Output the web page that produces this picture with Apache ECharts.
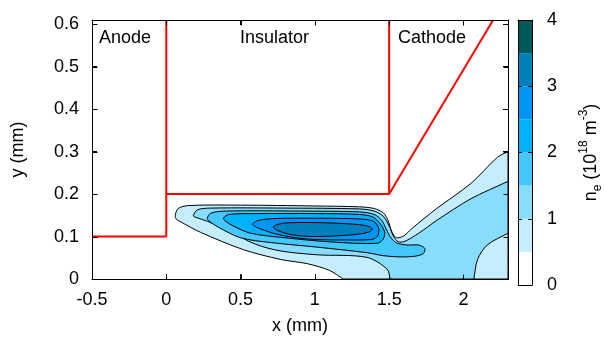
<!DOCTYPE html>
<html>
<head>
<meta charset="utf-8">
<script src="https://cdn.jsdelivr.net/npm/echarts@6/dist/echarts.min.js"></script>
<style>
  html, body { margin: 0; padding: 0; background: #fff; }
  #chart { width: 605px; height: 340px; }
</style>
</head>
<body>
<div id="chart"></div>
<script>
// axis ranges (mm) and tick marks
const xRange = [-0.5, 2.3];
const yRange = [0, 0.61];
const xTicks = [-0.5, 0, 0.5, 1, 1.5, 2];
const yTicks = [0, 0.1, 0.2, 0.3, 0.4, 0.5, 0.6];

// electrode outline (red)
const anodeEdge = [[-0.5, 0.1], [0, 0.1], [0, 0.61]];
const insulatorEdge = [[0, 0.2], [1.5, 0.2], [1.5, 0.61]];
const cathodeEdge = [[1.5, 0.2], [2.2, 0.61]];

// colour bar levels, n_e in 1e18 m^-3
const levels = [0, 0.5, 1, 1.5, 2, 2.5, 3, 3.5, 4];
const levelColors = ['#ffffff', '#c4eefc', '#88dcfc', '#44c8fc', '#00b2fa', '#0096f6', '#0080bc', '#005a5a'];

// filled contour outlines: n_e >= 0.5, 1, 1.5, 2, 2.5, 3
// (a repeated point keeps a sharp corner where a contour meets the frame)
const c05 = [[0.06,0.149],[0.08,0.166],[0.15,0.173],[0.5,0.174],[1.0,0.172],[1.3,0.170],[1.40,0.166],
  [1.46,0.156],[1.49,0.140],[1.52,0.110],[1.55,0.097],[1.60,0.102],[1.65,0.118],[1.82,0.166],[2.05,0.225],
  [2.23,0.287],[2.3,0.30],[2.3,0.30],[2.3,0],[2.3,0],[1.19,0],[1.19,0],[1.1,0.02],[0.95,0.036],[0.77,0.046],
  [0.52,0.069],[0.23,0.11],[0.1,0.134],[0.07,0.14]];
const c10 = [[0.182,0.149],[0.21,0.163],[0.3,0.167],[0.8,0.167],[1.3,0.165],[1.40,0.160],[1.46,0.148],
  [1.50,0.125],[1.53,0.100],[1.56,0.088],[1.60,0.088],[1.70,0.108],[1.82,0.138],[2.05,0.189],[2.3,0.230],
  [2.3,0.230],[2.3,0.108],[2.3,0.108],[2.16,0.080],[2.095,0.046],[2.07,0],[2.07,0],[1.507,0],[1.507,0],
  [1.487,0.023],[1.35,0.051],[1.016,0.057],[0.77,0.066],[0.6,0.082],[0.41,0.115],[0.276,0.136],[0.2,0.145]];
const c15 = [[0.276,0.143],[0.30,0.155],[0.4,0.160],[0.9,0.160],[1.3,0.158],[1.40,0.152],[1.45,0.138],
  [1.48,0.118],[1.51,0.098],[1.55,0.085],[1.62,0.080],[1.70,0.080],[1.74,0.072],[1.73,0.060],[1.68,0.054],
  [1.58,0.052],[1.46,0.055],[1.35,0.062],[1.016,0.075],[0.7,0.086],[0.5,0.097],[0.35,0.122],[0.29,0.136]];
const c20 = [[0.384,0.143],[0.42,0.152],[0.6,0.154],[1.0,0.154],[1.3,0.152],[1.39,0.146],[1.44,0.130],
  [1.47,0.110],[1.46,0.094],[1.42,0.084],[1.12,0.087],[0.8,0.097],[0.565,0.108],[0.45,0.125],[0.40,0.136]];
const c25 = [[0.58,0.129],[0.63,0.139],[0.8,0.143],[1.1,0.143],[1.32,0.141],[1.40,0.135],[1.43,0.118],
  [1.42,0.100],[1.38,0.093],[1.2,0.092],[0.95,0.094],[0.75,0.105],[0.62,0.12]];
const c30 = [[0.72,0.123],[0.78,0.131],[0.9,0.133],[1.1,0.132],[1.3,0.128],[1.37,0.123],[1.386,0.117],
  [1.36,0.110],[1.25,0.104],[1.0,0.100],[0.85,0.104],[0.75,0.114]];
const contours = [c05, c10, c15, c20, c25, c30];

const font = "'Liberation Sans', Arial, sans-serif";
const black = '#000';
const axisLine = { show: true, onZero: false, lineStyle: { color: black, width: 1 } };
const tickIn = { show: true, inside: true, length: 5, lineStyle: { color: black } };
const cbTick = { show: true, inside: true, length: 4, lineStyle: { color: black } };
const labelStyle = { color: black, fontSize: 18, fontFamily: font };

const chart = echarts.init(document.getElementById('chart'));

const cbSeries = levelColors.map((c, i) => ({
  type: 'bar',
  xAxisIndex: 2,
  yAxisIndex: 2,
  stack: 'cb',
  barWidth: '100%',
  silent: true,
  itemStyle: { color: c },
  data: [levels[i + 1] - levels[i]],
  z: 1,
}));

// frame box with inward ticks on all four sides of the main plot
const px = (v) => Math.round(v) + 0.5;
function renderFrame(params, api) {
  const tl = api.coord([xRange[0], yRange[1]]);
  const br = api.coord([xRange[1], yRange[0]]);
  const x0 = px(tl[0]), y0 = px(tl[1]), x1 = px(br[0]), y1 = px(br[1]);
  const st = { stroke: black, lineWidth: 1, fill: null };
  const kids = [{ type: 'rect', shape: { x: x0, y: y0, width: x1 - x0, height: y1 - y0 }, style: st }];
  xTicks.forEach((v) => {
    const x = px(api.coord([v, yRange[0]])[0]);
    kids.push({ type: 'line', shape: { x1: x, y1: y1, x2: x, y2: y1 - 5 }, style: st });
    kids.push({ type: 'line', shape: { x1: x, y1: y0, x2: x, y2: y0 + 5 }, style: st });
  });
  yTicks.forEach((v) => {
    const y = px(api.coord([xRange[0], v])[1]);
    kids.push({ type: 'line', shape: { x1: x0, y1: y, x2: x0 + 5, y2: y }, style: st });
    kids.push({ type: 'line', shape: { x1: x1, y1: y, x2: x1 - 5, y2: y }, style: st });
  });
  return { type: 'group', children: kids };
}

const option = {
  animation: false,
  grid: [
    { left: 92, top: 20, width: 416, height: 265 },
    { left: 518, top: 20, width: 22, height: 265 },
  ],
  xAxis: [
    {
      type: 'value', gridIndex: 0, min: xRange[0], max: xRange[1], interval: 0.5,
      axisLine, axisTick: tickIn, splitLine: { show: false },
      axisLabel: { ...labelStyle, margin: 12, showMaxLabel: false },
      name: 'x (mm)', nameLocation: 'middle', nameGap: 38,
      nameTextStyle: { ...labelStyle },
    },
    {
      type: 'value', gridIndex: 0, position: 'top', min: xRange[0], max: xRange[1], interval: 0.5,
      axisLine, axisTick: tickIn, axisLabel: { show: false }, splitLine: { show: false },
    },
    {
      type: 'category', gridIndex: 1, data: ['ne'], axisLine,
      axisTick: { show: false }, axisLabel: { show: false }, z: 5,
    },
    {
      type: 'category', gridIndex: 1, position: 'top', data: ['ne'], axisLine,
      axisTick: { show: false }, axisLabel: { show: false }, z: 5,
    },
  ],
  yAxis: [
    {
      type: 'value', gridIndex: 0, min: yRange[0], max: yRange[1], interval: 0.1,
      axisLine, axisTick: tickIn, splitLine: { show: false },
      axisLabel: {
        ...labelStyle, margin: 13, showMaxLabel: false,
        formatter: (v) => String(Math.round(v * 10) / 10),
      },
      name: 'y (mm)', nameLocation: 'middle', nameGap: 65, nameRotate: 90,
      nameTextStyle: { ...labelStyle },
    },
    {
      type: 'value', gridIndex: 0, position: 'right', min: yRange[0], max: yRange[1], interval: 0.1,
      axisLine, axisTick: tickIn, axisLabel: { show: false }, splitLine: { show: false },
    },
    {
      type: 'value', gridIndex: 1, position: 'right', min: 0, max: 4, interval: 1,
      axisLine, axisTick: cbTick, splitLine: { show: false },
      axisLabel: { ...labelStyle, margin: 15 },
      name: '{n|n}{sub|e}{n| (10}{sup|18}{n| m}{sup|-3}{n|)}',
      nameLocation: 'middle', nameGap: 46, nameRotate: 90,
      nameTextStyle: {
        rich: {
          n: { fontSize: 18, fontFamily: font, color: black, lineHeight: 26, verticalAlign: 'middle' },
          sub: { fontSize: 12, fontFamily: font, color: black, lineHeight: 26, verticalAlign: 'bottom' },
          sup: { fontSize: 12, fontFamily: font, color: black, lineHeight: 26, verticalAlign: 'top' },
        },
      },
      z: 5,
    },
    {
      type: 'value', gridIndex: 1, position: 'left', min: 0, max: 4, interval: 1,
      axisLine, axisTick: cbTick, axisLabel: { show: false }, splitLine: { show: false }, z: 5,
    },
  ],
  graphic: [
    { type: 'text', left: 99, top: 29, style: { text: 'Anode', font: '18px ' + font, fill: black } },
    { type: 'text', left: 240, top: 29, style: { text: 'Insulator', font: '18px ' + font, fill: black } },
    { type: 'text', left: 398, top: 29, style: { text: 'Cathode', font: '18px ' + font, fill: black } },
  ],
  series: [
    {
      type: 'custom',
      coordinateSystem: 'cartesian2d',
      xAxisIndex: 0,
      yAxisIndex: 0,
      silent: true,
      data: contours.map((_, i) => [levels[i + 1], 0.05]),
      renderItem: (params, api) => {
        const pts = contours[params.dataIndex].map((p) => api.coord(p));
        return {
          type: 'polygon',
          shape: { points: pts, smooth: 0.3 },
          style: { fill: levelColors[params.dataIndex + 1], stroke: black, lineWidth: 1 },
        };
      },
      z: 2,
    },
    ...[anodeEdge, insulatorEdge, cathodeEdge].map((d) => ({
      type: 'line',
      xAxisIndex: 0,
      yAxisIndex: 0,
      data: d,
      symbol: 'none',
      silent: true,
      lineStyle: { color: '#ff0000', width: 2 },
      z: 3,
    })),
    {
      type: 'custom',
      coordinateSystem: 'cartesian2d',
      xAxisIndex: 0,
      yAxisIndex: 0,
      silent: true,
      data: [[xRange[0], yRange[0]]],
      renderItem: renderFrame,
      z: 6,
    },
    ...cbSeries,
  ],
};

chart.setOption(option);
</script>
</body>
</html>
